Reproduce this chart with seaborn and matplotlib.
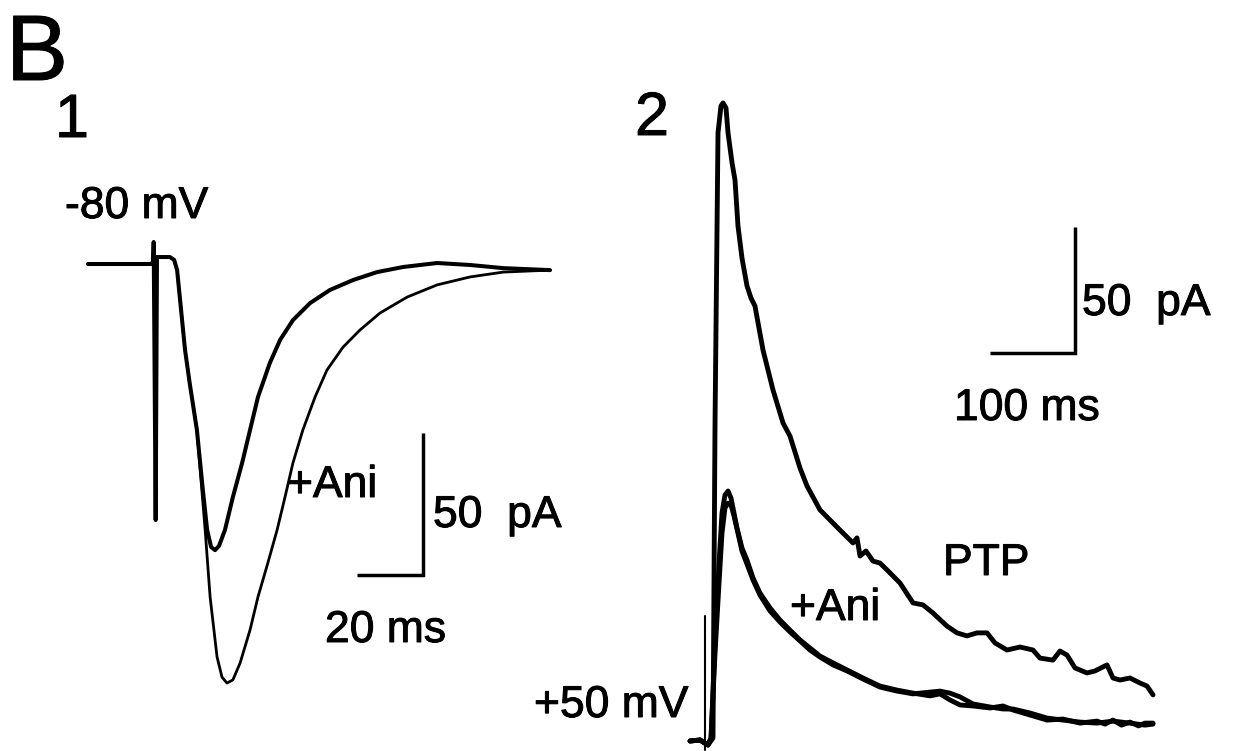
import matplotlib
matplotlib.use("Agg")
import matplotlib.pyplot as plt
import matplotlib.patheffects as pe
import pandas as pd
import seaborn as sns

# ---------------- Panel 1: EPSCs at -80 mV (time in ms, current in pA) ----------------
p1_ctrl_t = [-20.3, -10.6, -1.5, -0.6, -0.4, 0.2, 0.6, 4.5, 5.8, 6.7, 7.6, 9.1, 10.6, 12.7,
             14.5, 15.8, 17.0, 18.2, 19.4, 21.2, 23.6, 26.4, 28.8, 31.2, 34.8, 37.9, 41.8,
             47.0, 53.0, 60.0, 67.3, 75.2, 85.5, 95.5, 105.5, 119.7]
p1_ctrl_i = [0.35, 0.35, 0.35, 0.35, 8.1, -89.8, 2.8, 2.8, 1.8, -1.8, -12.3, -29.9, -42.3,
             -58.1, -79.2, -93.3, -99.3, -100.4, -98.9, -93.3, -81.7, -69.7, -58.1, -46.5,
             -34.5, -26.4, -19.4, -13.4, -8.8, -5.3, -2.5, -0.7, 0.7, 0.0, -1.1, -1.8]

p1_ani_t = [-20.3, -1.5, 0.6, 4.5, 5.8, 6.7, 7.6, 9.1, 10.6, 12.7, 15.2, 16.7, 18.8, 20.3,
            21.8, 23.6, 25.8, 28.8, 31.2, 34.2, 37.0, 39.4, 41.8, 44.8, 48.5, 52.1, 57.0,
            62.1, 68.2, 76.4, 85.5, 95.5, 105.5, 119.7]
p1_ani_i = [0.35, 0.35, 2.8, 2.8, 1.8, -1.8, -12.3, -29.9, -42.3, -58.1, -93.3, -116.9,
            -138.0, -145.1, -147.2, -146.1, -140.1, -128.5, -116.9, -104.9, -93.3, -81.7,
            -69.7, -58.1, -46.5, -37.0, -28.9, -22.9, -16.9, -11.3, -7.0, -4.2, -2.5, -1.8]

# ---------------- Panel 2: currents at +50 mV ----------------
p2_ptp_t = [-17.6, -5.9, 3.5, 9.4, 11.8, 15.3, 18.8, 21.2, 24.7, 27.1, 31.8, 35.3, 38.8, 43.5,
            49.4, 54.1, 58.8, 68.2, 80.0, 91.8, 100.0, 111.8, 120.0, 135.3, 158.8, 174.1,
            178.8, 182.4, 189.4, 197.6, 205.9, 214.1, 229.4, 244.7, 256.5, 268.2, 284.7,
            296.5, 308.2, 320.0, 331.8, 341.2, 355.3, 370.6, 385.9, 394.1, 409.4, 417.6,
            425.9, 435.3, 449.4, 458.8, 472.9, 480.0, 488.2, 500.0, 511.8, 520.0, 527.1]
p2_ptp_i = [0.0, 0.4, -1.6, 1.2, 126.2, 241.3, 252.0, 253.2, 251.2, 241.3, 229.4, 222.6,
            204.4, 191.7, 180.6, 175.8, 172.6, 155.2, 139.3, 126.2, 121.0, 108.3, 101.2,
            91.7, 83.7, 78.6, 80.6, 73.4, 75.4, 71.4, 70.6, 67.9, 62.7, 54.8, 54.0, 50.8,
            45.6, 42.9, 41.7, 42.9, 42.9, 38.9, 36.1, 37.3, 36.1, 32.9, 32.1, 35.7, 34.1,
            29.0, 27.0, 27.8, 30.2, 25.0, 24.2, 25.0, 23.0, 21.8, 18.3]

p2_base_t = [-17.6, -5.9, 3.5, 7.1, 11.8, 16.5, 20.0, 23.5, 27.1, 30.6, 34.1, 37.6, 43.5,
             49.4, 56.5, 64.7, 76.5, 88.2, 100.0, 111.8, 123.5, 135.3, 150.6, 167.1, 185.9,
             205.9, 225.9, 244.7, 264.7, 276.5, 288.2, 300.0, 315.3, 335.3, 350.6, 362.4,
             382.4, 402.4, 421.2, 441.2, 461.2, 470.6, 480.0, 490.0, 500.0, 510.0, 517.6,
             527.1]
p2_base_i = [0.0, 0.4, -1.6, 1.2, 38.9, 70.6, 90.5, 97.6, 99.2, 96.4, 90.5, 84.5, 76.6,
             71.8, 64.7, 58.7, 52.8, 48.0, 44.0, 40.1, 36.9, 33.7, 31.0, 28.2, 25.0, 21.8,
             20.2, 19.0, 17.9, 18.7, 16.3, 14.3, 13.9, 13.1, 13.9, 12.3, 10.3, 8.3, 8.7, 7.1,
             7.9, 6.7, 8.3, 6.3, 7.5, 6.0, 7.1, 7.1]

p2_ani_t = [-17.6, -5.9, 3.5, 7.1, 11.8, 16.5, 20.0, 23.5, 27.1, 30.6, 34.1, 38.8, 43.5,
            49.4, 56.5, 64.7, 76.5, 88.2, 100.0, 111.8, 123.5, 135.3, 150.6, 167.1, 185.9,
            205.9, 225.9, 244.7, 264.7, 276.5, 288.2, 300.0, 315.3, 335.3, 350.6, 362.4,
            382.4, 402.4, 421.2, 441.2, 461.2, 480.0, 500.0, 517.6, 527.1]
p2_ani_i = [0.0, 0.4, -1.6, 1.2, 34.9, 62.7, 82.5, 92.5, 94.4, 93.7, 89.3, 82.5, 75.4, 70.2,
            63.9, 57.9, 51.6, 47.2, 43.3, 39.7, 36.1, 33.3, 30.2, 27.8, 24.6, 21.4, 19.8,
            18.7, 19.4, 19.8, 19.0, 17.5, 14.7, 13.5, 12.7, 12.7, 11.1, 9.1, 8.3, 7.5, 7.1,
            7.9, 7.1, 6.3, 6.7]

# stimulus artifact ahead of the +50 mV responses
p2_stim_t = [0.0, 0.0]
p2_stim_i = [49.6, -3.6]

# scale bars: (ms, pA)
p1_bar = (20, 50)
p2_bar = (100, 50)

sns.set_theme(style="white")
plt.rcParams["font.family"] = ["Liberation Sans", "DejaVu Sans"]

W, H = 1235, 751
fig = plt.figure(figsize=(W / 100, H / 100), dpi=100)
fig.patch.set_facecolor("white")


def panel_axes(box, origin, scale):
    """Axes whose data units map to pixels with the given origin and px-per-unit scale."""
    x0, y0, x1, y1 = box
    ox, oy = origin
    sx, sy = scale
    ax = fig.add_axes([x0 / W, 1 - y1 / H, (x1 - x0) / W, (y1 - y0) / H])
    ax.set_xlim((x0 - ox) / sx, (x1 - ox) / sx)
    ax.set_ylim((oy - y1) / sy, (oy - y0) / sy)
    ax.set_axis_off()
    return ax


def trace(ax, t, i, lw):
    df = pd.DataFrame({"t": t, "i": i})
    sns.lineplot(data=df, x="t", y="i", ax=ax, sort=False, estimator=None,
                 color="black", linewidth=lw, legend=False)
    for ln in ax.lines:
        ln.set_clip_on(False)
        ln.set_solid_joinstyle("round")


def scale_bar(ax, t_end, i_base, bar):
    dt, di = bar
    ax.plot([t_end - dt, t_end, t_end], [i_base, i_base, i_base + di],
            color="black", linewidth=2.5, solid_joinstyle="miter",
            solid_capstyle="butt", clip_on=False)


ink = [pe.withStroke(linewidth=0.7, foreground="black")]


def label(x, y, s, size):
    fig.text(x / W, 1 - y / H, s, ha="left", va="baseline", fontsize=size,
             color="black", path_effects=ink)


# Panel 1
ax1 = panel_axes((80, 230, 570, 700), (155, 265), (3.3, 2.84))
trace(ax1, p1_ani_t, p1_ani_i, 2.0)
trace(ax1, p1_ctrl_t, p1_ctrl_i, 2.9)
scale_bar(ax1, (423 - 155) / 3.3, (265 - 575) / 2.84, p1_bar)

# Panel 2
ax2 = panel_axes((680, 90, 1165, 751), (705, 741), (0.85, 2.52))
trace(ax2, p2_stim_t, p2_stim_i, 1.5)
trace(ax2, p2_base_t, p2_base_i, 3.5)
trace(ax2, p2_ani_t, p2_ani_i, 3.5)
trace(ax2, p2_ptp_t, p2_ptp_i, 3.5)
scale_bar(ax2, (1075 - 705) / 0.85, (741 - 353) / 2.52, p2_bar)

# Text
fs = 32
label(6, 80, "B", 67)
label(55, 137, "1", 44)
label(635, 135, "2", 44)
label(65, 218, "-80 mV", fs)
label(287, 497, "+Ani", fs)
label(433, 527, "50  pA", fs)
label(325, 642, "20 ms", fs)
label(534, 717, "+50 mV", fs)
label(790, 620, "+Ani", fs)
label(943, 575, "PTP", fs)
label(1082, 315, "50  pA", fs)
label(954, 420, "100 ms", fs)

fig.savefig("out.png", dpi=100, facecolor="white")
